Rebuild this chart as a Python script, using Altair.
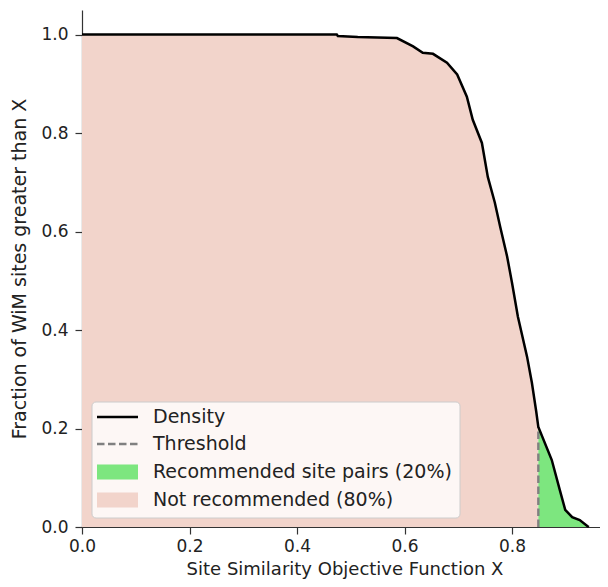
import altair as alt
import pandas as pd
import numpy as np

# ---- data ----
x_vals = [0.0, 0.474, 0.476, 0.513, 0.586, 0.616, 0.634, 0.653, 0.679, 0.698,
          0.716, 0.727, 0.744, 0.755, 0.768, 0.778, 0.791, 0.800, 0.811, 0.828,
          0.837, 0.845, 0.849, 0.874, 0.889, 0.899, 0.912, 0.926, 0.940, 0.943]
frac_vals = [1.0, 1.0, 0.997, 0.995, 0.993, 0.976, 0.963, 0.961, 0.943, 0.919,
             0.874, 0.827, 0.780, 0.711, 0.659, 0.610, 0.549, 0.496, 0.427, 0.346,
             0.293, 0.235, 0.203, 0.136, 0.075, 0.035, 0.020, 0.014, 0.002, 0.0]
threshold = 0.849
x_ticks = [0.0, 0.2, 0.4, 0.6, 0.8]
y_ticks = [0.0, 0.2, 0.4, 0.6, 0.8, 1.0]
legend_labels = ["Density", "Threshold", "Recommended site pairs (20%)", "Not recommended (80%)"]

PINK = "#f2d4cb"
GREEN = "#7de67f"
FONT = "DejaVu Sans"
DASH = [7.5, 3.5]

curve = pd.DataFrame({"x": x_vals, "y": frac_vals})
thr_y = float(np.interp(threshold, x_vals, frac_vals))
left = curve[curve.x <= threshold]
right = curve[curve.x >= threshold]
thr = pd.DataFrame({"x": [threshold], "y0": [0.0], "y1": [thr_y]})

W, H = 518, 517
xs = alt.Scale(domain=[0, W / 537.5], nice=False, zero=False)
ys = alt.Scale(domain=[0, 1.05], nice=False, zero=False)

x_axis = alt.Axis(values=x_ticks, format=".1f", title="Site Similarity Objective Function X",
                  grid=False, labelFlush=False, labelPadding=4, titleFontSize=18,
                  titleY=47.5, titleBaseline="alphabetic", titleX=262.5, titleAlign="center")
y_axis = alt.Axis(values=y_ticks, format=".1f", title="Fraction of WiM sites greater than X",
                  grid=False, labelFlush=False, labelPadding=7, titlePadding=11, titleFontSize=19)

area_left = alt.Chart(left).mark_area(color=PINK, interpolate="linear").encode(
    x=alt.X("x:Q", scale=xs, axis=x_axis),
    y=alt.Y("y:Q", scale=ys, axis=y_axis),
)
area_right = alt.Chart(right).mark_area(color=GREEN, interpolate="linear").encode(
    x=alt.X("x:Q", scale=xs),
    y=alt.Y("y:Q", scale=ys),
)
thr_rule = alt.Chart(thr).mark_rule(color="#808080", strokeWidth=2.4, strokeDash=DASH).encode(
    x=alt.X("x:Q", scale=xs),
    y=alt.Y("y0:Q", scale=ys),
    y2="y1:Q",
)
line = alt.Chart(curve).mark_line(color="black", strokeWidth=2.5, interpolate="linear").encode(
    x=alt.X("x:Q", scale=xs),
    y=alt.Y("y:Q", scale=ys),
)

# ---- manual legend (pixel layout inside plot area) ----
one = pd.DataFrame({"a": [0]})
frame = alt.Chart(one).mark_rect(fill="white", fillOpacity=0.8, stroke="#cccccc",
                                 strokeWidth=1, cornerRadius=4).encode(
    x=alt.value(10), x2=alt.value(378), y=alt.value(392), y2=alt.value(508))
rows_y = [407, 434, 462, 490]
sym_x0, sym_x1, text_x = 15, 56, 71
leg = [frame]
leg.append(alt.Chart(one).mark_rule(color="black", strokeWidth=2.5).encode(
    x=alt.value(sym_x0), x2=alt.value(sym_x1), y=alt.value(rows_y[0])))
leg.append(alt.Chart(one).mark_rule(color="#808080", strokeWidth=2.4, strokeDash=DASH).encode(
    x=alt.value(sym_x0), x2=alt.value(sym_x1), y=alt.value(rows_y[1])))
leg.append(alt.Chart(one).mark_rect(color=GREEN).encode(
    x=alt.value(sym_x0), x2=alt.value(sym_x1), y=alt.value(rows_y[2] - 7.5), y2=alt.value(rows_y[2] + 7.5)))
leg.append(alt.Chart(one).mark_rect(color=PINK).encode(
    x=alt.value(sym_x0), x2=alt.value(sym_x1), y=alt.value(rows_y[3] - 7.5), y2=alt.value(rows_y[3] + 7.5)))
for lab, ry in zip(legend_labels, rows_y):
    leg.append(alt.Chart(one).mark_text(align="left", baseline="middle", fontSize=19,
                                        font=FONT, color="#222222").encode(
        x=alt.value(text_x), y=alt.value(ry), text=alt.value(lab)))

chart = alt.layer(area_left, area_right, thr_rule, line, *leg).properties(
    width=W, height=H,
    autosize=alt.AutoSizeParams(type="none"),
    padding={"left": 74, "top": 2, "right": 0, "bottom": 52},
).configure_view(stroke=None).configure_axis(
    domainColor="#333333", tickColor="#333333", domainWidth=1.2, tickWidth=1.2, tickSize=7,
    labelColor="#222222", titleColor="#222222", labelFont=FONT, titleFont=FONT,
    labelFontSize=17, titleFontWeight="normal",
)

chart.save("out.html", embed_options={"renderer": "svg", "actions": False})
